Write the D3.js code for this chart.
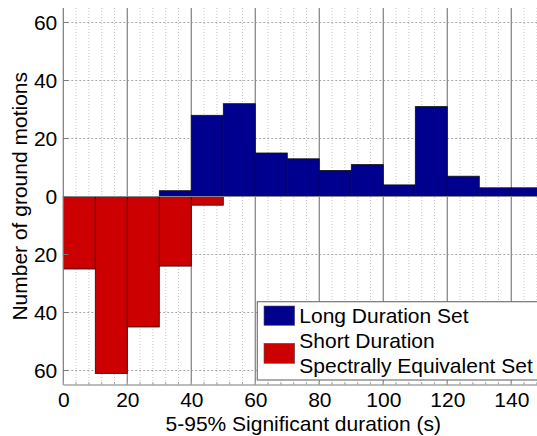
<!DOCTYPE html>
<html>
<head>
<meta charset="utf-8">
<script src="https://cdn.jsdelivr.net/npm/d3@7"></script>
<style>
  html, body { margin: 0; padding: 0; background: #fff; }
  svg { display: block; font-family: "Liberation Sans", Arial, sans-serif; }
</style>
</head>
<body>
<svg id="chart" width="537" height="436"></svg>
<script>
// ---- data ----
const binStarts = [0, 10, 20, 30, 40, 50, 60, 70, 80, 90, 100, 110, 120, 130, 140];
const binWidth = 10;
const longDurationSet = [0, 0, 0, 2, 28, 32, 15, 13, 9, 11, 4, 31, 7, 3, 3];
const shortDurationSet = [25, 61, 45, 24, 3, 0, 0, 0, 0, 0, 0, 0, 0, 0, 0];
const xTicks = [0, 20, 40, 60, 80, 100, 120, 140];
const xMinorTicks = d3.range(0, 151, 4);
const yTicks = [-60, -40, -20, 0, 20, 40, 60];
const seriesNames = ["Long Duration Set", "Short Duration", "Spectrally Equivalent Set"];
const xLabel = "5-95% Significant duration (s)";
const yLabel = "Number of ground motions";
const colors = { long: "#00008f", short: "#cc0000" };

// ---- layout ----
const svg = d3.select("#chart");
const pL = 63.3, pR = 543.3, pT = 8, pB = 385;
const x = d3.scaleLinear().domain([0, 150]).range([pL, pR]);
const y = d3.scaleLinear().domain([-65, 65]).range([pB, pT]);

// minor vertical grid (dotted)
svg.append("g").selectAll("line")
  .data(xMinorTicks.filter(v => v % 20 !== 0))
  .join("line")
  .attr("x1", d => x(d)).attr("x2", d => x(d))
  .attr("y1", pT).attr("y2", pB)
  .attr("stroke", "#c4c4c4").attr("stroke-width", 1)
  .attr("stroke-dasharray", "1,2");

// horizontal major grid (dotted)
svg.append("g").selectAll("line")
  .data(yTicks.filter(v => v !== 0))
  .join("line")
  .attr("x1", pL).attr("x2", pR)
  .attr("y1", d => y(d)).attr("y2", d => y(d))
  .attr("stroke", "#a8a8a8").attr("stroke-width", 1)
  .attr("stroke-dasharray", "2,2");

// vertical major grid (solid)
svg.append("g").selectAll("line")
  .data(xTicks.filter(v => v !== 0))
  .join("line")
  .attr("x1", d => x(d)).attr("x2", d => x(d))
  .attr("y1", pT).attr("y2", pB)
  .attr("stroke", "#8a8a8a").attr("stroke-width", 1.3);

// bars: long duration (up)
svg.append("g").selectAll("rect")
  .data(binStarts.map((b, i) => ({ b, v: longDurationSet[i] })).filter(d => d.v > 0))
  .join("rect")
  .attr("x", d => x(d.b)).attr("width", d => x(d.b + binWidth) - x(d.b))
  .attr("y", d => y(d.v)).attr("height", d => y(0) - y(d.v))
  .attr("fill", colors.long).attr("stroke", "#111").attr("stroke-width", 0.8);

// bars: short duration (down)
svg.append("g").selectAll("rect")
  .data(binStarts.map((b, i) => ({ b, v: shortDurationSet[i] })).filter(d => d.v > 0))
  .join("rect")
  .attr("x", d => x(d.b)).attr("width", d => x(d.b + binWidth) - x(d.b))
  .attr("y", y(0)).attr("height", d => y(-d.v) - y(0))
  .attr("fill", colors.short).attr("stroke", "#111").attr("stroke-width", 0.8);

// zero line
svg.append("line")
  .attr("x1", pL).attr("x2", pR)
  .attr("y1", y(0)).attr("y2", y(0))
  .attr("stroke", "#888").attr("stroke-width", 1);

// axes
const xAxis = d3.axisBottom(x).tickValues(xTicks).tickSize(0).tickPadding(0);
const gx = svg.append("g").attr("transform", `translate(0,${pB})`).call(xAxis);
gx.select(".domain").remove();
gx.selectAll("text").attr("font-size", 21).attr("fill", "#000")
  .attr("dy", null).attr("y", 22);

const yAxis = d3.axisLeft(y).tickValues(yTicks).tickSize(0).tickPadding(0)
  .tickFormat(d => Math.abs(d));
const gy = svg.append("g").attr("transform", `translate(${pL},0)`).call(yAxis);
gy.select(".domain").remove();
gy.selectAll("text").attr("font-size", 21).attr("fill", "#000").attr("x", -6);

// axis lines
svg.append("line").attr("x1", pL).attr("x2", pL).attr("y1", pT).attr("y2", pB)
  .attr("stroke", "#7a7a7a").attr("stroke-width", 1.2);
svg.append("line").attr("x1", pL).attr("x2", pR).attr("y1", pB).attr("y2", pB)
  .attr("stroke", "#7a7a7a").attr("stroke-width", 1.2);

// small ticks
svg.append("g").selectAll("line").data(yTicks).join("line")
  .attr("x1", pL).attr("x2", pL + 5).attr("y1", d => y(d)).attr("y2", d => y(d))
  .attr("stroke", "#7a7a7a");
svg.append("g").selectAll("line").data(xMinorTicks).join("line")
  .attr("x1", d => x(d)).attr("x2", d => x(d)).attr("y1", pB).attr("y2", pB - 3)
  .attr("stroke", "#aaa");

// axis titles
svg.append("text").attr("x", (pL + pR) / 2).attr("y", 430.5)
  .attr("text-anchor", "middle").attr("font-size", 21).text(xLabel);
svg.append("text").attr("transform", "translate(26.7,196.3) rotate(-90)")
  .attr("text-anchor", "middle").attr("font-size", 21).text(yLabel);

// legend
const lg = svg.append("g");
lg.append("rect").attr("x", 257.3).attr("y", 301.7).attr("width", 300).attr("height", 78.3)
  .attr("fill", "#fff").attr("stroke", "#777").attr("stroke-width", 1.2);
lg.append("rect").attr("x", 264).attr("y", 306).attr("width", 30.7).attr("height", 19.3)
  .attr("fill", colors.long).attr("stroke", "#555").attr("stroke-width", 0.6);
lg.append("rect").attr("x", 264).attr("y", 343.3).attr("width", 30.7).attr("height", 20)
  .attr("fill", colors.short).attr("stroke", "#555").attr("stroke-width", 0.6);
lg.append("text").attr("x", 299.3).attr("y", 323.3).attr("font-size", 21).text(seriesNames[0]);
lg.append("text").attr("x", 299.3).attr("y", 348.3).attr("font-size", 21).text(seriesNames[1]);
lg.append("text").attr("x", 299.3).attr("y", 372.7).attr("font-size", 21).text(seriesNames[2]);
</script>
</body>
</html>
